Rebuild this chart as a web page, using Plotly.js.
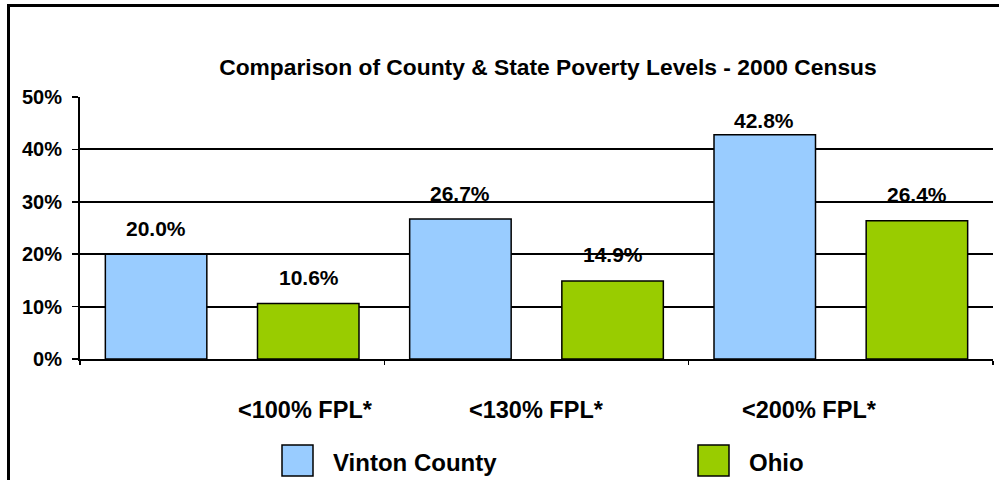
<!DOCTYPE html>
<html>
<head>
<meta charset="utf-8">
<script src="https://cdn.plot.ly/plotly-3.0.1.min.js"></script>
<style>
  html, body { margin: 0; padding: 0; background: #fff; overflow: hidden; }
  #chart { width: 999px; height: 480px; }
  #frame { position: absolute; left: 7px; top: 4px; width: 1100px; height: 600px;
           border: 3px solid #000; pointer-events: none; }
</style>
</head>
<body>
<div id="chart"></div>
<div id="frame"></div>
<script>
// ---- data ----
const categories = ['<100% FPL*', '<130% FPL*', '<200% FPL*'];
const seriesNames = ['Vinton County', 'Ohio'];
const vintonValues = [20.0, 26.7, 42.8];
const ohioValues = [10.6, 14.9, 26.4];
const titleText = 'Comparison of County & State Poverty Levels - 2000 Census';

// ---- layout constants ----
const W = 999, H = 480;
const ML = 80, MR = 6, MT = 97, MB = 121;
const PW = W - ML - MR, PH = H - MT - MB;
const px2x = px => (px - ML) / PW;
const py2y = py => (H - MB - py) / PH;
const FONT = 'Liberation Sans, Arial, sans-serif';
const colors = ['#99CCFF', '#99CC00'];
const barShift = [-76.5, 76.5];
const catLabelShift = [73, 0, -31];
const legendPos = [{sq: 282, text: 331}, {sq: 698, text: 747}];

const seriesValues = [vintonValues, ohioValues];

const traces = seriesValues.map((vals, i) => ({
  type: 'bar',
  name: seriesNames[i],
  x: categories,
  y: vals,
  marker: { color: colors[i], line: { color: '#000', width: 1.5 } },
  hoverinfo: 'x+y+name'
}));

const annotations = [];
seriesValues.forEach((vals, i) => {
  vals.forEach((v, j) => {
    annotations.push({
      x: categories[j], y: v, xref: 'x', yref: 'y',
      text: v.toFixed(1) + '%', showarrow: false,
      xshift: barShift[i], yshift: v > 40 ? 14 : 26,
      xanchor: 'center', yanchor: 'middle',
      font: { family: FONT, size: 21, color: '#000', weight: 'bold' }
    });
  });
});
categories.forEach((c, j) => {
  annotations.push({
    x: c, xref: 'x', y: py2y(410), yref: 'paper',
    text: c, showarrow: false, xshift: catLabelShift[j],
    xanchor: 'center', yanchor: 'middle',
    font: { family: FONT, size: 23.5, color: '#000', weight: 'bold' }
  });
});
const shapes = [];
seriesNames.forEach((n, i) => {
  shapes.push({
    type: 'rect', xref: 'paper', yref: 'paper',
    x0: px2x(legendPos[i].sq), x1: px2x(legendPos[i].sq + 31),
    y0: py2y(476), y1: py2y(445),
    fillcolor: colors[i], line: { color: '#000', width: 1.5 }
  });
  annotations.push({
    x: px2x(legendPos[i].text), xref: 'paper', y: py2y(462), yref: 'paper',
    text: n, showarrow: false, xanchor: 'left', yanchor: 'middle',
    font: { family: FONT, size: 24, color: '#000', weight: 'bold' }
  });
});

const layout = {
  width: W, height: H,
  margin: { l: ML, r: MR, t: MT, b: MB, pad: 0 },
  paper_bgcolor: '#fff', plot_bgcolor: '#fff',
  showlegend: false,
  barmode: 'group', bargap: 0, bargroupgap: 0.333,
  title: {
    text: titleText, x: 0.5485, xref: 'container', xanchor: 'center',
    y: 1 - 67 / H, yref: 'container', yanchor: 'middle',
    font: { family: FONT, size: 22.8, color: '#000', weight: 'bold' }
  },
  xaxis: {
    type: 'category', range: [-0.5, 2.5],
    showticklabels: false, ticks: 'outside', tickson: 'boundaries',
    ticklen: 4, tickwidth: 1.5, tickcolor: '#000',
    showline: true, linecolor: '#000', linewidth: 2,
    showgrid: false, zeroline: false, fixedrange: true
  },
  yaxis: {
    range: [0, 50], dtick: 10, tick0: 0, ticksuffix: '%',
    ticks: 'outside', ticklen: 6, tickwidth: 1.5, tickcolor: '#000',
    showline: true, linecolor: '#000', linewidth: 2,
    showgrid: true, gridcolor: '#000', gridwidth: 2,
    zeroline: false, ticklabelstandoff: 6,
    tickfont: { family: FONT, size: 20, color: '#000', weight: 'bold' },
    fixedrange: true
  },
  annotations: annotations,
  shapes: shapes
};

Plotly.newPlot('chart', traces, layout, { displayModeBar: false, staticPlot: true });
</script>
</body>
</html>
